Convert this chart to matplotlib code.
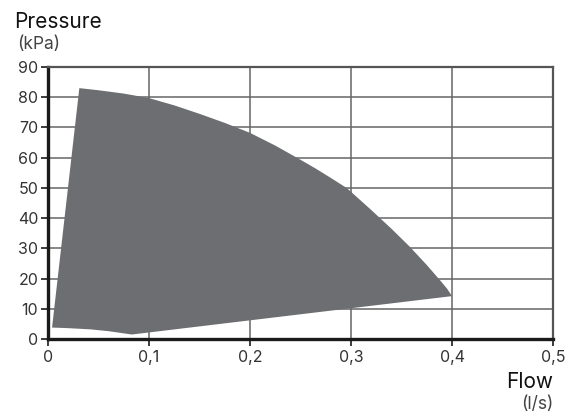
import numpy as np
import matplotlib.pyplot as plt

plt.rcParams['font.family'] = ['Inter', 'DejaVu Sans']

# upper boundary (max curve), from left to right
upper_flow = [0.031, 0.05, 0.075, 0.1, 0.125, 0.15, 0.175, 0.2, 0.225, 0.25,
              0.265, 0.28, 0.296, 0.319, 0.34, 0.358, 0.375, 0.388, 0.395, 0.4]
upper_pres = [83.0, 82.3, 81.2, 79.7, 77.3, 74.5, 71.5, 68.2, 64.0, 59.3,
              56.4, 53.3, 49.9, 43.0, 36.5, 30.6, 24.5, 19.5, 16.7, 14.2]
# lower boundary, from right back to left
lower_flow = [0.4, 0.083, 0.06, 0.042, 0.02, 0.004]
lower_pres = [14.2, 1.5, 2.6, 3.2, 3.6, 3.8]

xticks = [0, 0.1, 0.2, 0.3, 0.4, 0.5]
xlabels = ['0', '0,1', '0,2', '0,3', '0,4', '0,5']
yticks = list(range(0, 91, 10))

fig = plt.figure(figsize=(5.71, 4.16), dpi=100)
ax = fig.add_axes([0.0841, 0.185, 0.8844, 0.654])

poly_x = upper_flow + lower_flow
poly_y = upper_pres + lower_pres
ax.fill(poly_x, poly_y, color='#6d6e71', lw=0, zorder=2)

ax.set_xlim(0, 0.5)
ax.set_ylim(0, 90)
ax.set_xticks(xticks)
ax.set_xticklabels(xlabels)
ax.set_yticks(yticks)
ax.grid(True, color='#666666', lw=1.1, zorder=1)
ax.set_axisbelow(True)

for s in ['left', 'bottom']:
    ax.spines[s].set_linewidth(2.4)
    ax.spines[s].set_color('#1a1a1a')
for s in ['top', 'right']:
    ax.spines[s].set_linewidth(1.6)
    ax.spines[s].set_color('#555555')

ax.tick_params(axis='both', labelsize=11.5, colors='#1a1a1a', labelcolor='#333333',
               length=5, width=1.2, direction='out')
ax.tick_params(axis='y', pad=2)
ax.tick_params(axis='x', pad=3)

fig.text(0.0245, 0.947, 'Pressure', fontsize=15, color='#111111', va='center', ha='left')
fig.text(0.030, 0.892, '(kPa)', fontsize=12.5, color='#444444', va='center', ha='left')
fig.text(0.9685, 0.081, 'Flow', fontsize=15, color='#111111', va='center', ha='right')
fig.text(0.9685, 0.027, '(l/s)', fontsize=12.5, color='#444444', va='center', ha='right')

fig.savefig('out.png', dpi=100)
